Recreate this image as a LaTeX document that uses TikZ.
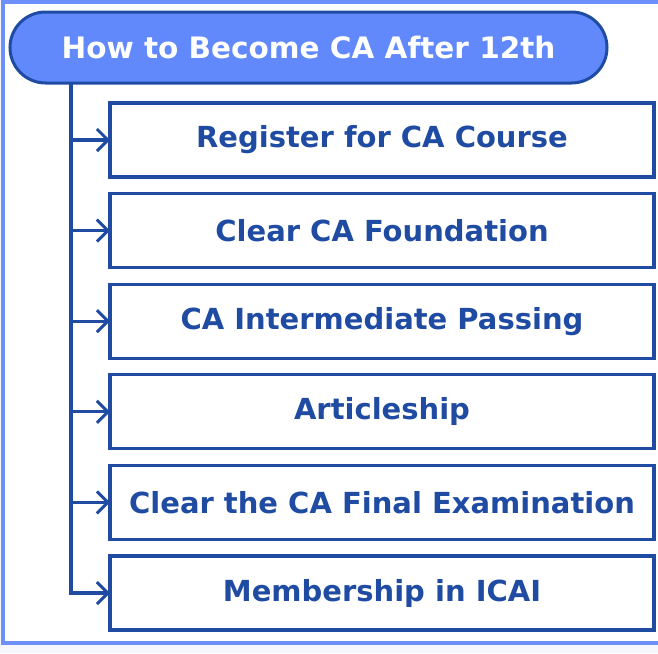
\documentclass[tikz,border=0pt]{standalone}
\usepackage{fontspec}
\setmainfont{DejaVu Sans}
\usetikzlibrary{positioning,arrows.meta}

\definecolor{framebl}{HTML}{6D8FF9}
\definecolor{headbl}{HTML}{6189FC}
\definecolor{darkbl}{HTML}{1F4CA2}
\definecolor{pagebg}{HTML}{F5F7FC}

\tikzset{
  stepbox/.style={draw=darkbl,line width=3.2pt,rectangle,minimum width=544pt,minimum height=74pt,
    inner sep=0pt,outer sep=0pt,text=darkbl,font=\fontsize{29}{34}\selectfont\bfseries},
  headbox/.style={draw=darkbl,line width=3pt,fill=headbl,rounded corners=35.5pt,minimum width=597pt,
    minimum height=71pt,inner sep=0pt,outer sep=0pt,text=white,font=\fontsize{29.5}{34}\selectfont\bfseries},
  link/.style={darkbl,line width=3.2pt,-{Straight Barb[length=11pt,width=22pt,line width=3pt]}}
}

\begin{document}
\begin{tikzpicture}[x=1pt,y=-1pt]
\useasboundingbox (0,0) rectangle (658,653);
\fill[pagebg] (0,0) rectangle (658,653);
\fill[white] (3,2) rectangle (662,643);
\draw[framebl,line width=3.5pt] (662,2) -- (3,2) -- (3,643) -- (662,643);

\node[headbox] (head) at (308.5,47.5) {How to Become CA After 12th};

\node[stepbox] (step-1) at (382,140) {Register for CA Course};
\node[stepbox,below=16.6pt of step-1] (step-2) {Clear CA Foundation};
\node[stepbox,below=16.6pt of step-2] (step-3) {CA Intermediate Passing};
\node[stepbox,below=16.6pt of step-3] (step-4) {Articleship};
\node[stepbox,below=16.6pt of step-4] (step-5) {Clear the CA Final Examination};
\node[stepbox,below=16.6pt of step-5] (step-6) {Membership in ICAI};

\coordinate (trunk) at (71,83);
\draw[link] (trunk) |- (step-6.west);
\foreach \i in {1,...,5}
  \draw[link] (trunk |- step-\i.west) -- (step-\i.west);
\end{tikzpicture}
\end{document}
